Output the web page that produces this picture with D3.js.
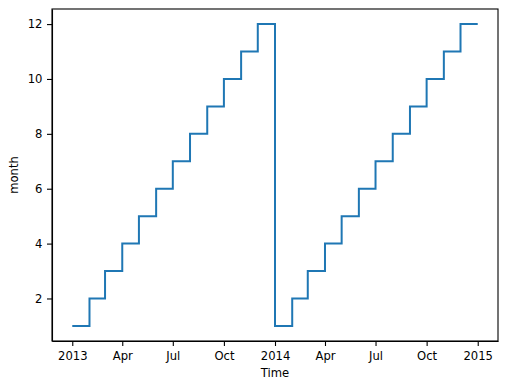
<!DOCTYPE html>
<html>
<head>
<meta charset="utf-8">
<script src="https://cdn.jsdelivr.net/npm/d3@7"></script>
<style>
  body { margin: 0; background: #fff; }
  text { font-family: "DejaVu Sans", sans-serif; fill: #000; }
  .axis text { font-size: 11.6px; }
  .axis path, .axis line { stroke: #000; stroke-width: 1.1px; }
</style>
</head>
<body>
<script>
'use strict';

// monthly series: first day of each month and its month number
let monthStarts = [
  "2013-01-01", "2013-02-01", "2013-03-01", "2013-04-01", "2013-05-01", "2013-06-01",
  "2013-07-01", "2013-08-01", "2013-09-01", "2013-10-01", "2013-11-01", "2013-12-01",
  "2014-01-01", "2014-02-01", "2014-03-01", "2014-04-01", "2014-05-01", "2014-06-01",
  "2014-07-01", "2014-08-01", "2014-09-01", "2014-10-01", "2014-11-01", "2014-12-01"
];
let monthValues = [1, 2, 3, 4, 5, 6, 7, 8, 9, 10, 11, 12,
                   1, 2, 3, 4, 5, 6, 7, 8, 9, 10, 11, 12];
// where the last step ends
let seriesEnd = "2015-01-01";

let xTicks = ["2013-01-01", "2013-04-01", "2013-07-01", "2013-10-01", "2014-01-01",
              "2014-04-01", "2014-07-01", "2014-10-01", "2015-01-01"];
let yTicks = [2, 4, 6, 8, 10, 12];

let margin = { top: 9, left: 52, bottom: 49, right: 9 };
let width = 507 - margin.left - margin.right,
  height = 390 - margin.top - margin.bottom;

let parse = d3.utcParse("%Y-%m-%d");

let data = monthStarts.map((d, i) => ({ date: parse(d), value: monthValues[i] }));
data.push({ date: parse(seriesEnd), value: monthValues[monthValues.length - 1] });

let svg = d3.select("body").append("svg")
  .attr("width", 507)
  .attr("height", 390);

let g = svg.append("g")
  .attr("transform", "translate(" + margin.left + "," + margin.top + ")");

// matplotlib style 5% padding around the data
let t0 = data[0].date, t1 = data[data.length - 1].date;
let padT = (t1 - t0) * 0.05;
let x = d3.scaleUtc()
  .domain([new Date(+t0 - padT), new Date(+t1 + padT)])
  .range([0, width]);

let yMin = d3.min(monthValues), yMax = d3.max(monthValues);
let padY = (yMax - yMin) * 0.05;
let y = d3.scaleLinear()
  .domain([yMin - padY, yMax + padY])
  .range([height, 0]);

// step line
let line = d3.line()
  .x(d => x(d.date))
  .y(d => y(d.value))
  .curve(d3.curveStepAfter);

g.append("path")
  .datum(data)
  .attr("fill", "none")
  .attr("stroke", "#1f77b4")
  .attr("stroke-width", 2)
  .attr("d", line);

// axes
let fmt = d => d.getUTCMonth() === 0 ? d3.utcFormat("%Y")(d) : d3.utcFormat("%b")(d);

g.append("g")
  .attr("class", "axis")
  .attr("transform", "translate(0," + height + ")")
  .call(d3.axisBottom(x).tickValues(xTicks.map(parse)).tickFormat(fmt).tickSize(5).tickSizeOuter(0).tickPadding(5.5));

g.append("g")
  .attr("class", "axis")
  .call(d3.axisLeft(y).tickValues(yTicks).tickSize(5).tickSizeOuter(0).tickPadding(4.5));

// frame
g.append("rect")
  .attr("width", width)
  .attr("height", height)
  .attr("fill", "none")
  .attr("stroke", "#000")
  .attr("stroke-width", 1.1);

// axis labels
svg.append("text")
  .attr("x", margin.left + width / 2)
  .attr("y", 377)
  .attr("text-anchor", "middle")
  .style("font-size", "11.6px")
  .text("Time");

svg.append("text")
  .attr("transform", "translate(18," + (margin.top + height / 2) + ") rotate(-90)")
  .attr("text-anchor", "middle")
  .style("font-size", "11.6px")
  .text("month");
</script>
</body>
</html>
